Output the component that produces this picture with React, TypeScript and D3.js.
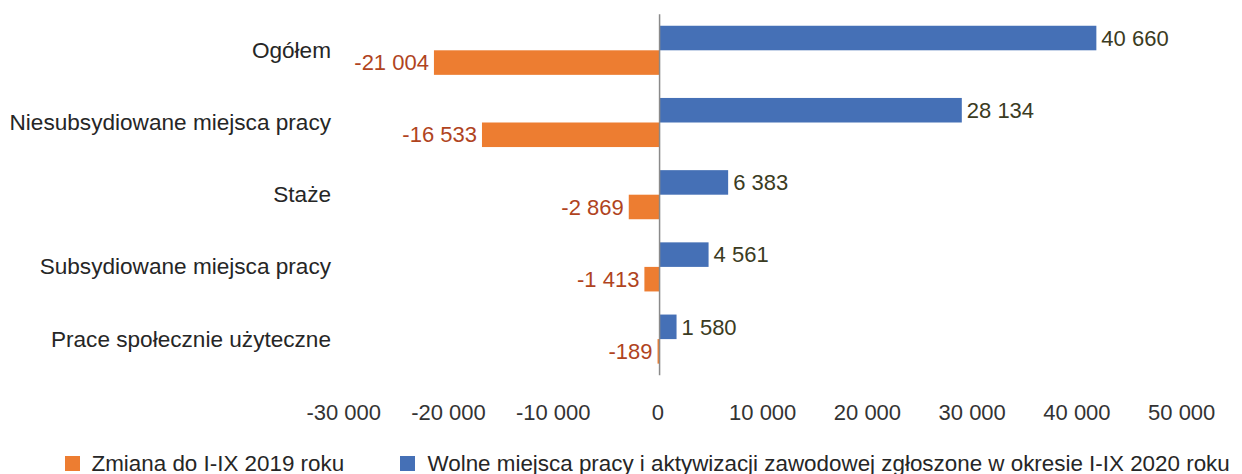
import React from 'react'
import * as d3 from 'd3'

const categories = [
  'Ogółem',
  'Niesubsydiowane miejsca pracy',
  'Staże',
  'Subsydiowane miejsca pracy',
  'Prace społecznie użyteczne',
]
// Wolne miejsca pracy i aktywizacji zawodowej zgłoszone w okresie I-IX 2020 roku
const offers2020 = [40660, 28134, 6383, 4561, 1580]
// Zmiana do I-IX 2019 roku
const change2019 = [-21004, -16533, -2869, -1413, -189]
const xTicks = [-30000, -20000, -10000, 0, 10000, 20000, 30000, 40000, 50000]
const legendLabels = [
  'Zmiana do I-IX 2019 roku',
  'Wolne miejsca pracy i aktywizacji zawodowej zgłoszone w okresie I-IX 2020 roku',
]

const W = 1242
const H = 474
const BLUE = '#4570B6'
const ORANGE = '#ED7D31'
const FONT = '"Liberation Sans", Arial, sans-serif'

const plLocale = d3.formatLocale({
  decimal: ',',
  thousands: ' ',
  grouping: [3],
  currency: ['', ''],
  minus: '-',
})
const fmt = plLocale.format(',d')

export default function App() {
  const x = d3.scaleLinear().domain([-30000, 50000]).range([337.3, 1196.7])
  // tick labels sit slightly inward of the bar scale in the original
  const xLabel = d3.scaleLinear().domain([-30000, 50000]).range([343.7, 1181.7])
  const y = d3.scaleBand<string>().domain(categories).range([14.2, 375.2]).padding(0)
  const barH = y.bandwidth() * 0.34

  return (
    <svg
      width={W}
      height={H}
      style={{ position: 'absolute', left: 0, top: 0, background: '#fff' }}
      fontFamily={FONT}
    >
      {categories.map((c, i) => {
        const cy = (y(c) ?? 0) + y.bandwidth() / 2
        const vb = offers2020[i]
        const vo = change2019[i]
        return (
          <g key={c}>
            <text x={331} y={cy} dy="0.33em" textAnchor="end" fontSize={22.6} fill="#262626">
              {c}
            </text>
            <rect x={x(0)} y={cy - barH} width={x(vb) - x(0)} height={barH} fill={BLUE} />
            <rect x={x(vo)} y={cy} width={x(0) - x(vo)} height={barH} fill={ORANGE} />
            <text
              x={x(vb) + 5}
              y={cy - barH / 2}
              dy="0.35em"
              fontSize={22}
              fill="#3b3b22"
            >
              {fmt(vb)}
            </text>
            <text
              x={x(vo) - 5}
              y={cy + barH / 2}
              dy="0.35em"
              textAnchor="end"
              fontSize={22}
              fill="#B0441E"
            >
              {fmt(vo)}
            </text>
          </g>
        )
      })}

      <line x1={x(0)} x2={x(0)} y1={y.range()[0]} y2={y.range()[1]} stroke="#8a8a8a" strokeWidth={1.5} />

      {xTicks.map((t) => (
        <text key={t} x={xLabel(t)} y={412} dy="0.35em" textAnchor="middle" fontSize={22} fill="#333">
          {fmt(t)}
        </text>
      ))}

      <g>
        <rect x={65} y={456} width={15} height={15} fill={ORANGE} />
        <text x={91.5} y={471} fontSize={22.4} fill="#262626">
          {legendLabels[0]}
        </text>
        <rect x={400} y={456} width={15} height={15} fill={BLUE} />
        <text x={427.5} y={471} fontSize={22.4} fill="#262626">
          {legendLabels[1]}
        </text>
      </g>
    </svg>
  )
}
